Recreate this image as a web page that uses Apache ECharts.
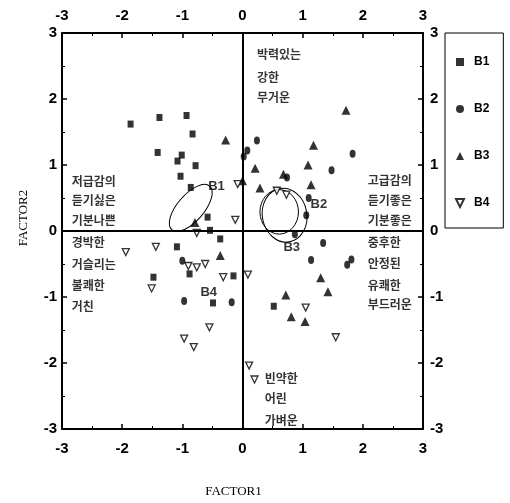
<!DOCTYPE html>
<html>
<head>
<meta charset="utf-8">
<script src="https://cdn.jsdelivr.net/npm/echarts@6/dist/echarts.min.js"></script>
<style>
  html, body { margin: 0; padding: 0; background: #fff; }
  #main { width: 510px; height: 503px; }
</style>
</head>
<body>
<div id="main"></div>
<script>
// factor scores per group [FACTOR1, FACTOR2]
var b1 = [[-1.86,1.62],[-1.38,1.72],[-0.93,1.75],[-0.83,1.47],[-1.41,1.19],[-1.01,1.15],[-1.08,1.06],
  [-0.78,0.99],[-1.03,0.83],[-0.86,0.66],[-0.58,0.21],[-0.54,0.01],[-0.37,-0.12],[-1.09,-0.24],
  [-1.48,-0.70],[-0.88,-0.65],[-0.15,-0.68],[-0.49,-1.09],[0.52,-1.14]];
var b2 = [[0.24,1.37],[0.08,1.22],[0.02,1.13],[0.74,0.81],[1.48,0.92],[1.83,1.17],[1.10,0.50],
  [1.06,0.24],[0.87,-0.05],[1.34,-0.18],[1.14,-0.44],[1.74,-0.51],[1.81,-0.43],[-1.00,-0.45],
  [-0.97,-1.06],[-0.18,-1.08]];
var b3 = [[-0.28,1.38],[0.21,0.95],[0.00,0.76],[-0.79,0.13],[1.72,1.83],[1.18,1.30],[1.09,1.00],
  [0.68,0.86],[0.29,0.65],[1.14,0.70],[-0.37,-0.37],[1.30,-0.71],[1.42,-0.92],[0.72,-0.97],
  [0.81,-1.30],[1.04,-1.37]];
var b4 = [[-0.08,0.71],[-0.12,0.17],[0.57,0.61],[0.73,0.55],[-0.76,-0.03],[-1.94,-0.32],[-1.44,-0.24],
  [-1.51,-0.87],[-0.90,-0.53],[-0.76,-0.55],[-0.62,-0.50],[-0.32,-0.70],[0.09,-0.66],[-0.55,-1.46],
  [-0.97,-1.63],[-0.81,-1.76],[0.11,-2.04],[0.20,-2.25],[1.05,-1.16],[1.55,-1.61]];

// group ellipses: centre x, centre y, semi axis a, semi axis b, angle (deg)
var ellipses = [[-0.86,0.35,0.48,0.22,49],[0.61,0.29,0.32,0.37,0],[0.70,0.24,0.37,0.45,10]];
var groupNames = ['B1','B2','B3','B4'];
var groupLabels = [[-0.57,0.68,'B1'],[1.13,0.40,'B2'],[0.68,-0.25,'B3'],[-0.70,-0.93,'B4']];

// adjective words around the map
var words = [
  [0.24,2.67,'박력있는'],[0.24,2.33,'강한'],[0.24,2.02,'무거운'],
  [-2.84,0.75,'저급감의'],[-2.84,0.46,'듣기싫은'],[-2.84,0.16,'기분나쁜'],[-2.84,-0.17,'경박한'],
  [-2.84,-0.51,'거슬리는'],[-2.84,-0.83,'불쾌한'],[-2.84,-1.14,'거친'],
  [2.08,0.76,'고급감의'],[2.08,0.46,'듣기좋은'],[2.08,0.16,'기분좋은'],[2.08,-0.18,'중후한'],
  [2.08,-0.49,'안정된'],[2.08,-0.82,'유쾌한'],[2.08,-1.12,'부드러운'],
  [0.37,-2.24,'빈약한'],[0.37,-2.54,'어린'],[0.37,-2.87,'가벼운']
];
var ticks = [-3,-2,-1,0,1,2,3];

var chart = echarts.init(document.getElementById('main'));

var tickFont = { fontFamily: 'Liberation Sans', fontWeight: 'bold', fontSize: 15, color: '#000' };

function valAxis(pos, extra) {
  var ax = {
    type: 'value',
    position: pos,
    min: ticks[0],
    max: ticks[ticks.length - 1],
    interval: 1,
    axisLine: { show: true, onZero: false, lineStyle: { color: '#000', width: 2 } },
    axisTick: { show: true, inside: true, length: 5, lineStyle: { color: '#000', width: 1.5 } },
    minorTick: { show: true, splitNumber: 2, length: 3, lineStyle: { color: '#000', width: 1 } },
    splitLine: { show: false },
    axisLabel: Object.assign({ margin: 8 }, tickFont)
  };
  return Object.assign(ax, extra || {});
}

function textLayer(rows, font) {
  return {
    type: 'scatter', silent: true, data: rows, symbolSize: 1,
    itemStyle: { color: 'rgba(0,0,0,0)' },
    label: Object.assign({
      show: true, position: 'inside', align: 'left', verticalAlign: 'middle',
      formatter: function (p) { return p.value[2]; },
      color: '#000'
    }, font)
  };
}

var option = {
  backgroundColor: '#fff',
  animation: false,
  grid: { left: 62, right: 87, top: 33, bottom: 73 },
  legend: {
    data: groupNames,
    orient: 'vertical',
    left: 445,
    top: 33,
    padding: [22, 14, 18, 10],
    itemGap: 33,
    itemWidth: 8,
    itemHeight: 8,
    borderColor: '#000',
    borderWidth: 1,
    textStyle: { fontFamily: 'Liberation Sans', fontWeight: 'bold', fontSize: 12, color: '#000',
      lineHeight: 14, padding: [0, 0, 0, 5] }
  },
  xAxis: [
    valAxis('bottom', {
      axisLabel: Object.assign({ margin: 12 }, tickFont),
      name: 'FACTOR1', nameLocation: 'middle', nameGap: 56,
      nameTextStyle: { fontFamily: 'Liberation Serif', fontSize: 13, color: '#000', padding: [0, 18, 0, 0] }
    }),
    valAxis('top', { axisLabel: Object.assign({ margin: 10 }, tickFont) })
  ],
  yAxis: [
    valAxis('left', {
      axisLabel: Object.assign({ margin: 5 }, tickFont),
      name: 'FACTOR2', nameLocation: 'middle', nameGap: 32,
      nameTextStyle: { fontFamily: 'Liberation Serif', fontSize: 13, color: '#000', padding: [0, 0, 0, 26] }
    }),
    valAxis('right', { axisLabel: Object.assign({ margin: 7 }, tickFont) })
  ],
  series: [
    {
      name: 'B1', type: 'scatter', data: b1, symbol: 'rect', symbolSize: [6, 7],
      itemStyle: { color: '#000' },
      markLine: {
        silent: true, symbol: 'none', animation: false,
        label: { show: false },
        lineStyle: { color: '#000', width: 2, type: 'solid' },
        data: [{ xAxis: 0 }, { yAxis: 0 }]
      }
    },
    { name: 'B2', type: 'scatter', data: b2, symbol: 'circle', symbolSize: [6, 8], itemStyle: { color: '#000' } },
    { name: 'B3', type: 'scatter', data: b3, symbol: 'triangle', symbolSize: 9, itemStyle: { color: '#000' } },
    {
      name: 'B4', type: 'scatter', data: b4, symbol: 'path://M0,0L10,0L5,10Z', symbolSize: 7,
      itemStyle: { color: '#fff', borderColor: '#000', borderWidth: 1.3 }
    },
    {
      type: 'custom',
      data: ellipses,
      silent: true,
      renderItem: function (params, api) {
        var c = api.coord([api.value(0), api.value(1)]);
        var rx = api.size([api.value(2), 0])[0];
        var ry = api.size([api.value(3), 0])[0];
        return {
          type: 'ellipse',
          x: c[0], y: c[1],
          rotation: api.value(4) * Math.PI / 180,
          shape: { cx: 0, cy: 0, rx: rx, ry: ry },
          style: { fill: 'none', stroke: '#000', lineWidth: 1 }
        };
      }
    },
    textLayer(groupLabels, { fontFamily: 'Liberation Sans', fontWeight: 'bold', fontSize: 13 }),
    textLayer(words, { fontFamily: 'Noto Sans CJK KR', fontWeight: 'bold', fontSize: 12 })
  ]
};

chart.setOption(option);

window.onresize = function () {
  chart.resize();
};
</script>
</body>
</html>
